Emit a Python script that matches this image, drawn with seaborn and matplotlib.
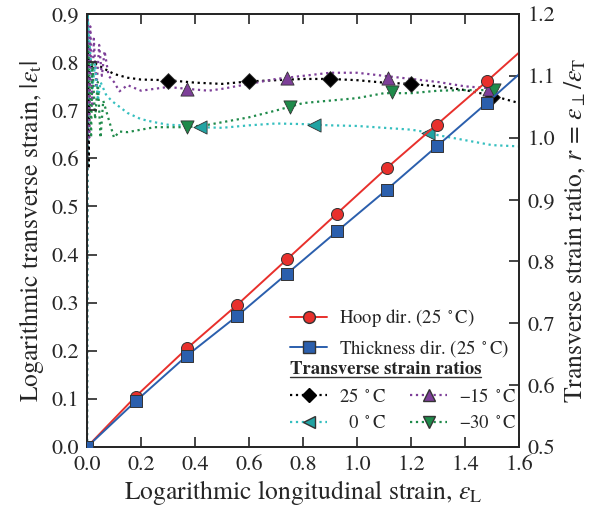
import numpy as np
import pandas as pd
import matplotlib
matplotlib.use("Agg")
import matplotlib.pyplot as plt
from matplotlib.lines import Line2D
import seaborn as sns

# longitudinal strain and transverse strains (25 C)
strain_L = [0.0, 0.18, 0.37, 0.555, 0.74, 0.925, 1.11, 1.295, 1.48, 1.6]
hoop = [0.0, 0.105, 0.205, 0.295, 0.39, 0.485, 0.58, 0.67, 0.76, 0.82]
thick = [0.0, 0.095, 0.19, 0.272, 0.36, 0.448, 0.535, 0.625, 0.715, 0.775]

# strain ratio curves r vs longitudinal strain
x_25 = [0.0, 0.002, 0.006, 0.01, 0.02, 0.03, 0.05, 0.07, 0.1, 0.15, 0.2, 0.3, 0.4, 0.5, 0.6,
        0.7, 0.8, 0.9, 1.0, 1.1, 1.2, 1.3, 1.4, 1.5, 1.6]
r_25 = [0.5, 1.2, 0.95, 1.13, 1.11, 1.12, 1.115, 1.11, 1.103, 1.097, 1.094, 1.093, 1.089, 1.087,
        1.091, 1.093, 1.095, 1.095, 1.093, 1.089, 1.087, 1.083, 1.077, 1.068, 1.056]

x_m15 = [0.0, 0.003, 0.008, 0.012, 0.02, 0.025, 0.035, 0.045, 0.055, 0.065, 0.08, 0.1, 0.12,
         0.15, 0.2, 0.25, 0.3, 0.37, 0.45, 0.5, 0.6, 0.7, 0.8, 0.9, 1.0, 1.1, 1.2, 1.3, 1.4, 1.52]
r_m15 = [0.97, 1.2, 1.0, 1.18, 1.05, 1.16, 1.08, 1.15, 1.10, 1.14, 1.10, 1.09, 1.075,
         1.085, 1.076, 1.079, 1.082, 1.079, 1.076, 1.079, 1.087, 1.095, 1.100, 1.105, 1.105,
         1.100, 1.095, 1.090, 1.083, 1.079]

x_0 = [0.0, 0.002, 0.01, 0.02, 0.03, 0.04, 0.05, 0.07, 0.09, 0.12, 0.15, 0.2, 0.25, 0.3, 0.35,
       0.42, 0.5, 0.6, 0.7, 0.8, 0.9, 1.0, 1.1, 1.2, 1.27, 1.3, 1.35, 1.4, 1.45, 1.5, 1.55, 1.6]
r_0 = [0.5, 1.2, 1.15, 1.08, 1.12, 1.06, 1.09, 1.07, 1.06, 1.05, 1.04, 1.03, 1.025, 1.021,
       1.020, 1.017, 1.016, 1.020, 1.023, 1.022, 1.020, 1.019, 1.016, 1.013, 1.008, 1.004,
       1.000, 0.996, 0.992, 0.988, 0.987, 0.986]

x_m30 = [0.005, 0.015, 0.02, 0.03, 0.04, 0.05, 0.06, 0.08, 0.1, 0.12, 0.15, 0.2, 0.25, 0.3,
         0.37, 0.45, 0.5, 0.6, 0.7, 0.75, 0.8, 0.9, 1.0, 1.1, 1.2, 1.3, 1.4, 1.52]
r_m30 = [1.15, 1.0, 1.12, 1.03, 1.09, 1.0, 1.06, 1.03, 1.0, 1.01, 1.009, 1.013, 1.017, 1.017,
         1.017, 1.021, 1.025, 1.033, 1.044, 1.050, 1.056, 1.060, 1.064, 1.072, 1.072, 1.076,
         1.077, 1.077]

# marker positions on ratio curves
mk_x_25 = [0.3, 0.6, 0.9, 1.2, 1.5]
mk_r_25 = [1.091, 1.091, 1.095, 1.087, 1.066]
mk_x_m15 = [0.37, 0.74, 1.115, 1.49]
mk_r_m15 = [1.079, 1.097, 1.097, 1.079]
mk_x_0 = [0.42, 0.84, 1.263]
mk_r_0 = [1.017, 1.020, 1.008]
mk_x_m30 = [0.37, 0.75, 1.13, 1.507]
mk_r_m30 = [1.017, 1.050, 1.074, 1.077]

sns.set_style("ticks")
plt.rcParams['font.family'] = 'serif'
plt.rcParams['font.serif'] = ['TeX Gyre Termes', 'Liberation Serif', 'DejaVu Serif']
plt.rcParams['mathtext.fontset'] = 'stix'

c_red = '#e8302c'
c_blue = '#2b5fad'
c_purple = '#7d3f98'
c_cyan = '#35bfbf'
c_cyan_mk = '#22a3a3'
c_green = '#1f8a4a'

fig = plt.figure(figsize=(5.92, 5.18), dpi=100)
ax = fig.add_axes([0.147, 0.137, 0.730, 0.836])
ax2 = ax.twinx()

# ratio curves (right axis)
curves = [
    (x_25, r_25, 'black', mk_x_25, mk_r_25, 'D', 'black'),
    (x_m15, r_m15, c_purple, mk_x_m15, mk_r_m15, '^', c_purple),
    (x_0, r_0, c_cyan, mk_x_0, mk_r_0, '<', c_cyan_mk),
    (x_m30, r_m30, c_green, mk_x_m30, mk_r_m30, 'v', c_green),
]
for xs, rs, col, mx, mr, mk, mcol in curves:
    sns.lineplot(x=xs, y=rs, ax=ax2, color=col, linestyle=':', linewidth=1.6, sort=False)
    sns.scatterplot(x=mx, y=mr, ax=ax2, color=mcol, marker=mk, s=90 if mk != 'D' else 65,
                    edgecolor='#333333', linewidth=0.6, zorder=5)

# transverse strain (left axis)
sns.lineplot(x=strain_L, y=hoop, ax=ax, color=c_red, linewidth=1.4)
sns.lineplot(x=strain_L, y=thick, ax=ax, color=c_blue, linewidth=1.4)
sns.scatterplot(x=strain_L[:-1], y=hoop[:-1], ax=ax, color=c_red, marker='o', s=75,
                edgecolor='#333333', linewidth=0.7, zorder=4)
sns.scatterplot(x=strain_L[:-1], y=thick[:-1], ax=ax, color=c_blue, marker='s', s=75,
                edgecolor='#333333', linewidth=0.7, zorder=4)

ax.set_zorder(ax2.get_zorder() + 1)
ax.patch.set_visible(False)

ax.set_xlim(0, 1.6)
ax.set_ylim(0, 0.9)
ax2.set_ylim(0.5, 1.2)
ax.set_xticks(np.arange(0, 1.61, 0.2))
ax.set_yticks(np.arange(0, 0.91, 0.1))
ax2.set_yticks(np.arange(0.5, 1.21, 0.1))
ax.xaxis.set_major_formatter(matplotlib.ticker.FormatStrFormatter('%.1f'))
ax.yaxis.set_major_formatter(matplotlib.ticker.FormatStrFormatter('%.1f'))
ax2.yaxis.set_major_formatter(matplotlib.ticker.FormatStrFormatter('%.1f'))

ax.tick_params(direction='in', top=True, right=False, length=7, width=1.2, labelsize=16, pad=6)
ax2.tick_params(direction='in', length=7, width=1.2, labelsize=16, pad=6)
for a in (ax, ax2):
    for s in a.spines.values():
        s.set_linewidth(1.3)

ax.set_xlabel(r'Logarithmic longitudinal strain, $\varepsilon_\mathrm{L}$', fontsize=18.5, labelpad=2)
ax.set_ylabel(r'Logarithmic transverse strain, $|\varepsilon_\mathrm{t}|$', fontsize=18.5, labelpad=4)
ax2.set_ylabel(r'Transverse strain ratio, $r\,=\,\varepsilon_\perp/\varepsilon_\mathrm{T}$', fontsize=18.5, labelpad=6)

# legends
h1 = [Line2D([], [], color=c_red, marker='o', markersize=8.5, markeredgecolor='#333333', lw=1.4),
      Line2D([], [], color=c_blue, marker='s', markersize=8.5, markeredgecolor='#333333', lw=1.4)]
leg1 = ax.legend(h1, ['Hoop dir. (25 $^\\circ$C)', 'Thickness dir. (25 $^\\circ$C)'],
                 loc='upper left', bbox_to_anchor=(0.452, 0.34), frameon=False,
                 fontsize=13.5, handlelength=2.0, handletextpad=0.6, borderaxespad=0,
                 labelspacing=0.45)
ax.add_artist(leg1)

h2 = [Line2D([], [], color='black', ls=':', marker='D', markersize=7.5, lw=1.6),
      Line2D([], [], color=c_cyan, ls=':', marker='<', markersize=9, markerfacecolor=c_cyan_mk,
             markeredgecolor='#333333', lw=1.6),
      Line2D([], [], color=c_purple, ls=':', marker='^', markersize=9,
             markeredgecolor='#333333', lw=1.6),
      Line2D([], [], color=c_green, ls=':', marker='v', markersize=9,
             markeredgecolor='#333333', lw=1.6)]
labels2 = ['25 $^\\circ$C', '  0 $^\\circ$C', '\u221215 $^\\circ$C', '\u221230 $^\\circ$C']
leg2 = ax.legend(h2, labels2, ncol=2, loc='upper left', bbox_to_anchor=(0.452, 0.215),
                 frameon=False, fontsize=13.5, handlelength=2.0, handletextpad=0.6,
                 columnspacing=1.3, borderaxespad=0, labelspacing=0.5,
                 title='Transverse strain ratios', title_fontproperties={'weight': 'bold', 'size': 13.5})
leg2._legend_box.align = 'left'

fig.canvas.draw()
bb = leg2.get_title().get_window_extent(fig.canvas.get_renderer())
inv = fig.transFigure.inverted()
(x0, y0), (x1, y1) = inv.transform([[bb.x0, bb.y0], [bb.x1, bb.y1]])
fig.add_artist(Line2D([x0, x1], [y0 + 0.002, y0 + 0.002], color='#333333', lw=1.0,
                      transform=fig.transFigure))

fig.savefig('out.png', dpi=100)
